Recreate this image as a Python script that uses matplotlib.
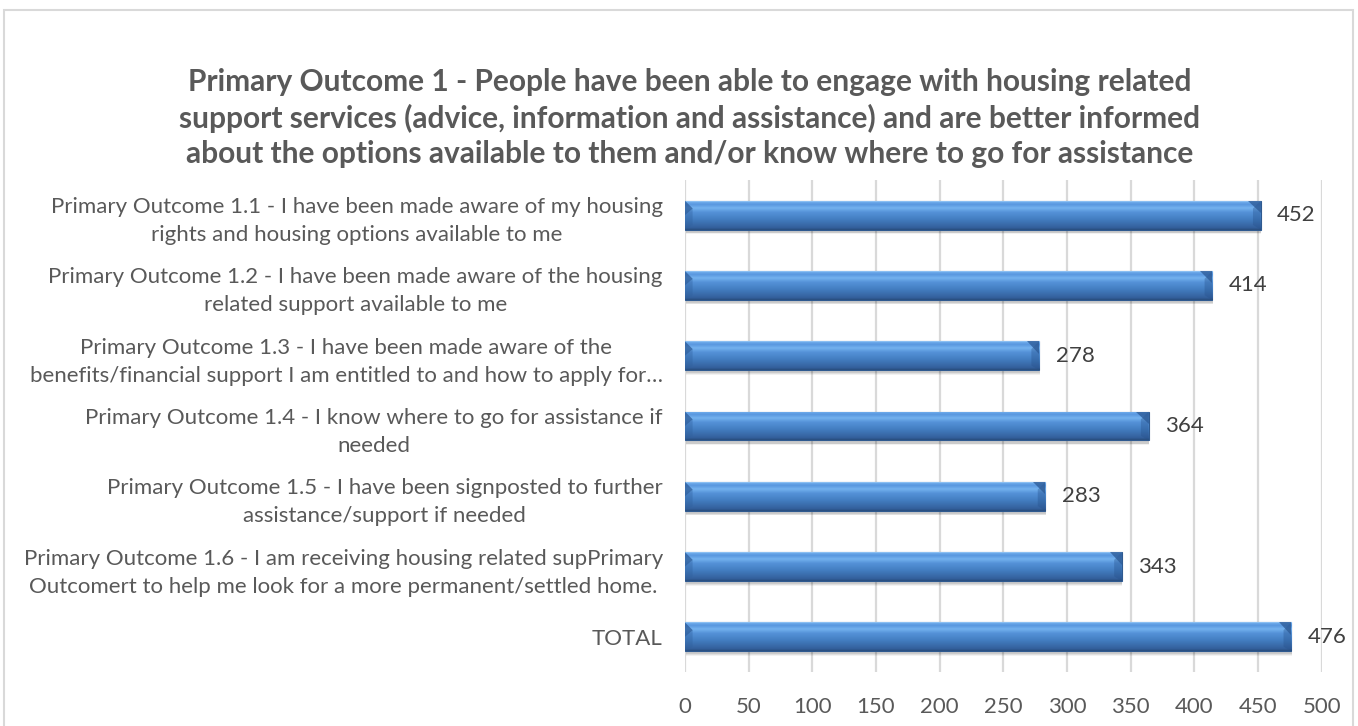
import numpy as np
import matplotlib.pyplot as plt
from matplotlib.colors import LinearSegmentedColormap
from matplotlib.patches import Rectangle, Polygon

plt.rcParams['font.family'] = ['Lato', 'DejaVu Sans']

title = ('Primary Outcome 1 - People have been able to engage with housing related\n'
         'support services (advice, information and assistance) and are better informed\n'
         'about the options available to them and/or know where to go for assistance')

categories = [
    'Primary Outcome 1.1 - I have been made aware of my housing\n'
    'rights and housing options available to me',
    'Primary Outcome 1.2 - I have been made aware of the housing\n'
    'related support available to me',
    'Primary Outcome 1.3 - I have been made aware of the\n'
    'benefits/financial support I am entitled to and how to apply for\u2026',
    'Primary Outcome 1.4 - I know where to go for assistance if\n'
    'needed',
    'Primary Outcome 1.5 - I have been signposted to further\n'
    'assistance/support if needed',
    'Primary Outcome 1.6 - I am receiving housing related supPrimary\n'
    'Outcomert to help me look for a more permanent/settled home.',
    'TOTAL',
]
counts = [452, 414, 278, 364, 283, 343, 476]
x_ticks = [0, 50, 100, 150, 200, 250, 300, 350, 400, 450, 500]

TEXT = '#595959'
GRID = '#d9d9d9'

# vertical shading of the bars, bottom -> top
bar_cmap = LinearSegmentedColormap.from_list('bevel', [
    (0.00, '#284c7c'),
    (0.08, '#33609c'),
    (0.40, '#4580c4'),
    (0.62, '#5592d8'),
    (0.76, '#74b2ef'),
    (0.88, '#5a98df'),
    (0.95, '#66a4e8'),
    (1.00, '#9dccf7'),
])

fig = plt.figure(figsize=(13.58, 7.26), dpi=100)
ax = fig.add_axes([0.5044, 0.0744, 0.9733 - 0.5044, 0.752 - 0.0744])

# chart frame
fig.patches.append(Rectangle((0.003, -0.02), 0.993, 1.006, transform=fig.transFigure,
                             fill=False, edgecolor=GRID, linewidth=1.5))

n = len(categories)
ypos = np.arange(n)[::-1]
height = 0.41

# soft drop shadow under each bar
for k, a in [(3, 0.05), (2, 0.07), (1, 0.09)]:
    ax.barh(ypos - 0.035, counts, height=height + 0.02 * k, left=0.5,
            color='black', alpha=a, linewidth=0, zorder=2)

bars = ax.barh(ypos, counts, height=height, color='#4a86cc',
               edgecolor='#2f5a90', linewidth=0.8, zorder=3)

grad = np.linspace(0, 1, 256).reshape(-1, 1)
bw = 6.0     # bevel width in data units
bh = 0.11    # bevel height in category units
for bar, y, v in zip(bars, ypos, counts):
    bottom, top = y - height / 2, y + height / 2
    im = ax.imshow(grad, extent=[0, v, bottom, top], origin='lower',
                   aspect='auto', cmap=bar_cmap, zorder=4)
    im.set_clip_path(bar)
    # bevelled ends
    ax.add_patch(Polygon([(0, top), (bw, top - bh), (bw, bottom + bh * 0.6), (0, bottom)],
                         closed=True, facecolor='#2f5f9c', alpha=0.35,
                         linewidth=0, zorder=5))
    ax.add_patch(Polygon([(0, top), (bw, top - bh), (0, y)],
                         closed=True, facecolor='#2c5a96', alpha=0.6,
                         linewidth=0, zorder=5))
    ax.add_patch(Polygon([(v - bw, top - bh), (v, top), (v, bottom), (v - bw, bottom + bh * 0.6)],
                         closed=True, facecolor='#25508a', alpha=0.35,
                         linewidth=0, zorder=5))
    ax.add_patch(Polygon([(v - bw * 1.6, top), (v, top), (v, top - bh * 1.6)],
                         closed=True, facecolor='#2c5a96', alpha=0.75,
                         linewidth=0, zorder=5))
    ax.text(v + 13, y, str(v), va='center', ha='left', fontsize=16,
            color='#404040', zorder=6)

ax.set_xlim(0, 500)
ax.set_ylim(-0.5, n - 0.5)
ax.set_xticks(x_ticks)
ax.set_yticks(ypos)
ax.set_yticklabels(categories, fontsize=16, color=TEXT,
                   multialignment='center', linespacing=1.5)
ax.tick_params(axis='y', length=0, pad=16)
ax.tick_params(axis='x', length=0, pad=18, labelsize=16, labelcolor=TEXT)
ax.grid(axis='x', color=GRID, linewidth=1.6, zorder=0)
ax.set_axisbelow(True)
for s in ax.spines.values():
    s.set_visible(False)

fig.text(0.508, 0.8375, title, ha='center', va='center', fontsize=21.5,
         fontweight='bold', color=TEXT, linespacing=1.32)

fig.savefig('out.png', dpi=100)
